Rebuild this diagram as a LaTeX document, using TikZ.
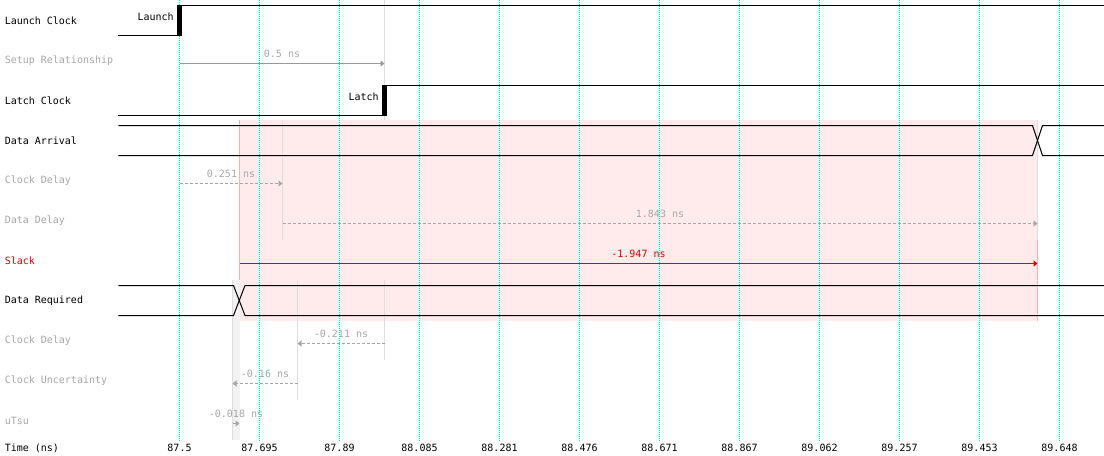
\documentclass[tikz,border=0pt]{standalone}
\usepackage{fontspec}
\setmonofont{DejaVu Sans Mono}
\usetikzlibrary{arrows.meta}
\usepackage{xcolor}
\definecolor{gridcyan}{HTML}{00DDE6}
\definecolor{slackred}{HTML}{E00000}
\definecolor{hintgrey}{HTML}{A6A6A6}
\definecolor{arrowgrey}{HTML}{999999}
\definecolor{windowpink}{HTML}{FFEBEB}
\definecolor{edgepink}{HTML}{F0B4B4}
\definecolor{markgrey}{HTML}{DDDDDD}

\begin{document}
\begin{tikzpicture}[x=0.75pt,y=-0.75pt,>={Triangle[length=3pt,width=4.5pt]},
  font=\ttfamily\fontsize{7.5}{9}\selectfont,
  sig/.style={line width=0.75pt},
  edgebar/.style={line width=3.4pt},
  gridln/.style={gridcyan,line width=0.75pt,dash pattern=on 0.75pt off 0.75pt},
  markln/.style={markgrey,line width=0.75pt},
  delay/.style={->,hintgrey,line width=0.75pt,dash pattern=on 2.25pt off 1.5pt},
  rowlbl/.style={anchor=west,inner sep=0pt},
  vallbl/.style={above=4pt,inner sep=0pt}]
\useasboundingbox (0,0) rectangle (1104,455);
% Slack window behind everything else
\fill[windowpink] (239.5,120) rectangle (1037.5,320.5);
\draw[edgepink,line width=0.75pt] (239.5,120)--(239.5,320.5) (1037.5,120)--(1037.5,320.5);
% Time grid
\foreach \gx in {179.5,259.5,...,1060}{
  \draw[gridln] (\gx,0)--(\gx,441);
}
% Axis values
\foreach \tval [count=\k from 0] in {87.5,87.695,87.89,88.085,88.281,88.476,88.671,88.867,89.062,89.257,89.453,89.648}{
  \node[inner sep=0pt] (tick\k) at (179.5+80*\k,448) {\tval};
}
% Marker lines at the ends of the delays
\fill[black!5] (232,280) rectangle (239.5,440);
\draw[markln] (232.5,280)--(232.5,440);
\draw[markln] (384.5,0)--(384.5,120);
\draw[markln] (282.5,120)--(282.5,240);
\draw[markln] (1037.5,120)--(1037.5,240);
\draw[markln] (297.5,280)--(297.5,400);
\draw[markln] (384.5,280)--(384.5,360);
% Row names
\node[rowlbl] (nLaunch) at (4.5,21) {Launch Clock};
\node[rowlbl,hintgrey] (nSetup) at (4.5,61) {Setup Relationship};
\node[rowlbl] (nLatch) at (4.5,101) {Latch Clock};
\node[rowlbl] (nArrival) at (4.5,141) {Data Arrival};
\node[rowlbl,hintgrey] (nClkA) at (4.5,181) {Clock Delay};
\node[rowlbl,hintgrey] (nData) at (4.5,221) {Data Delay};
\node[rowlbl,slackred] (nSlack) at (4.5,261) {Slack};
\node[rowlbl] (nRequired) at (4.5,301) {Data Required};
\node[rowlbl,hintgrey] (nClkR) at (4.5,341) {Clock Delay};
\node[rowlbl,hintgrey] (nUnc) at (4.5,381) {Clock Uncertainty};
\node[rowlbl,hintgrey] (nTsu) at (4.5,421) {uTsu};
\node[rowlbl] (nTime) at (4.5,448) {Time (ns)};
% Launch and latch clocks
\draw[sig] (118.3,35.5)--(179.5,35.5) (179.5,5.5)--(1104,5.5);
\draw[edgebar] (179.5,5)--(179.5,36);
\node[anchor=east,inner sep=0pt] (launchTag) at (174,17) {Launch};
\draw[sig] (118.3,115.5)--(384.5,115.5) (384.5,85.5)--(1104,85.5);
\draw[edgebar] (384.5,85)--(384.5,116);
\node[anchor=east,inner sep=0pt] (latchTag) at (379,97) {Latch};
% Data arrival and data required buses
\draw[sig] (118.3,125.5)--(1032.5,125.5)--(1042.5,155.5)--(1104,155.5);
\draw[sig] (118.3,155.5)--(1032.5,155.5)--(1042.5,125.5)--(1104,125.5);
\draw[sig] (118.3,285.5)--(233.5,285.5)--(245,315.5)--(1104,315.5);
\draw[sig] (118.3,315.5)--(233.5,315.5)--(245,285.5)--(1104,285.5);
% Delay arrows
\coordinate (suA) at (179.5,63.5);
\coordinate (suB) at (384.5,63.5);
\draw[->,arrowgrey,line width=0.75pt] (suA)-- node[vallbl,hintgrey] {0.5 ns} (suB);
\coordinate (cdA) at (179.5,183.5);
\coordinate (cdB) at (282.5,183.5);
\draw[delay] (cdA)-- node[vallbl] {0.251 ns} (cdB);
\coordinate (ddA) at (282.5,223.5);
\coordinate (ddB) at (1037.5,223.5);
\draw[delay] (ddA)-- node[vallbl] {1.843 ns} (ddB);
\coordinate (skA) at (239.5,263.5);
\coordinate (skB) at (1037.5,263.5);
\draw[->,slackred,line width=0.75pt] (skA)-- node[vallbl] {-1.947 ns} (skB);
\coordinate (crA) at (384.5,343.5);
\coordinate (crB) at (297.5,343.5);
\draw[delay] (crA)-- node[vallbl] {-0.211 ns} (crB);
\coordinate (cuA) at (297.5,383.5);
\coordinate (cuB) at (232.5,383.5);
\draw[delay] (cuA)-- node[vallbl] {-0.16 ns} (cuB);
\coordinate (tsA) at (232.5,423.5);
\coordinate (tsB) at (239.5,423.5);
\draw[delay] (tsA)-- node[vallbl] {-0.018 ns} (tsB);
\end{tikzpicture}
\end{document}
